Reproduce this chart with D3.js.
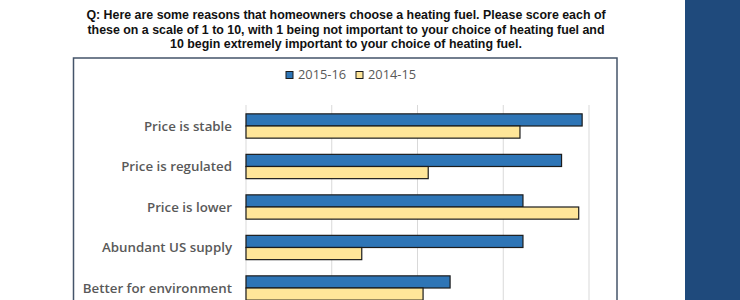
<!DOCTYPE html>
<html>
<head>
<meta charset="utf-8">
<script src="https://cdn.jsdelivr.net/npm/d3@7"></script>
<style>
  body { margin: 0; background: #fff; }
  svg { display: block; }
</style>
</head>
<body>
<div id="chart"></div>
<script>
// Data (mean score, 1-10 scale)
const categories = ['Price is stable', 'Price is regulated', 'Price is lower', 'Abundant US supply', 'Better for environment'];
const series = ['2015-16', '2014-15'];
const values2015 = [7.84, 7.36, 6.46, 6.46, 4.76];
const values2014 = [6.39, 4.25, 7.76, 2.70, 4.13];
const xTicks = [0, 2, 4, 6, 8];
const titleLines = [
    'Q: Here are some reasons that homeowners choose a heating fuel. Please score each of',
    'these on a scale of 1 to 10, with 1 being not important to your choice of heating fuel and',
    '10 begin extremely important to your choice of heating fuel.'
];

const width = 740, height = 300;
const colors = { '2015-16': '#2e75b6', '2014-15': '#ffe699' };

const svg = d3.select('#chart').append('svg')
    .attr('width', width)
    .attr('height', height);

// Right side panel
svg.append('rect')
    .attr('x', 685).attr('y', 0)
    .attr('width', 55).attr('height', height)
    .attr('fill', '#1f4a7c');

// Title
svg.append('g')
    .selectAll('text')
    .data(titleLines)
    .join('text')
    .attr('x', 346)
    .attr('y', (d, i) => 19 + i * 14.7)
    .attr('text-anchor', 'middle')
    .attr('font-family', 'Liberation Sans, Arial, sans-serif')
    .attr('font-weight', 'bold')
    .attr('font-size', '12.4px')
    .attr('fill', '#111')
    .text(d => d);

// Chart frame
svg.append('rect')
    .attr('x', 73.5).attr('y', 58)
    .attr('width', 543.5).attr('height', 260)
    .attr('fill', '#fff')
    .attr('stroke', '#44546a')
    .attr('stroke-width', 1.5);

// Scales
const x = d3.scaleLinear()
    .domain([0, 8])
    .range([246, 589]);

const y = d3.scaleBand()
    .domain(categories)
    .range([105.75, 308.25])
    .paddingInner(0.4)
    .paddingOuter(0.2);

const ySub = d3.scaleBand()
    .domain(series)
    .range([0, y.bandwidth()]);

// Gridlines
svg.append('g')
    .selectAll('line')
    .data(xTicks)
    .join('line')
    .attr('x1', d => x(d)).attr('x2', d => x(d))
    .attr('y1', 105).attr('y2', 318)
    .attr('stroke', '#d9d9d9')
    .attr('stroke-width', 1);

// Bars
const rows = categories.map((c, i) => ({ cat: c, vals: [
    { s: '2015-16', v: values2015[i] },
    { s: '2014-15', v: values2014[i] }
] }));

const groups = svg.append('g')
    .selectAll('g')
    .data(rows)
    .join('g')
    .attr('transform', d => `translate(0,${y(d.cat)})`);

groups.selectAll('rect')
    .data(d => d.vals)
    .join('rect')
    .attr('x', x(0))
    .attr('y', d => ySub(d.s))
    .attr('width', d => x(d.v) - x(0))
    .attr('height', ySub.bandwidth())
    .attr('fill', d => colors[d.s])
    .attr('stroke', '#1c1c1c')
    .attr('stroke-width', 1.2);

// Category labels
svg.append('g')
    .selectAll('text')
    .data(categories)
    .join('text')
    .attr('x', 232)
    .attr('y', d => y(d) + y.bandwidth() / 2)
    .attr('dy', '0.35em')
    .attr('text-anchor', 'end')
    .attr('font-family', 'Open Sans, sans-serif')
    .attr('font-weight', 600)
    .attr('font-size', '13.3px')
    .attr('fill', '#595959')
    .text(d => d);

// Legend
const legend = svg.append('g')
    .selectAll('g')
    .data(series)
    .join('g')
    .attr('transform', (d, i) => `translate(${286 + i * 70},71.5)`);

legend.append('rect')
    .attr('width', 7).attr('height', 7)
    .attr('fill', d => colors[d])
    .attr('stroke', '#1c1c1c')
    .attr('stroke-width', 1);

legend.append('text')
    .attr('x', 12)
    .attr('y', 3.5)
    .attr('dy', '0.35em')
    .attr('font-family', 'Open Sans, sans-serif')
    .attr('font-size', '12.8px')
    .attr('fill', '#595959')
    .text(d => d);
</script>
</body>
</html>
